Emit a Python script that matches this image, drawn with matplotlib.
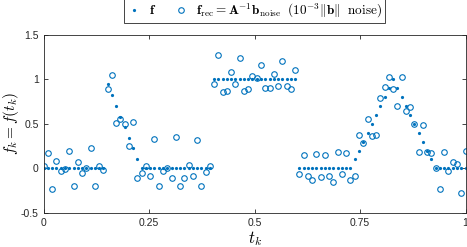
import numpy as np
import matplotlib
matplotlib.use("Agg")
import matplotlib.pyplot as plt

# --- data ---
n_pts = 100
t = np.linspace(0, 1, n_pts)

# true signal f(t_k)
f_true = np.zeros(n_pts)
f_true[15:23] = [0.946, 0.825, 0.70, 0.58, 0.46, 0.345, 0.225, 0.10]
f_true[40:60] = 1.0
f_true[73:92] = [0.1, 0.2, 0.3, 0.4, 0.5, 0.6, 0.7, 0.8, 0.9, 1.0,
                 0.9, 0.8, 0.7, 0.6, 0.5, 0.4, 0.3, 0.2, 0.1]

# reconstruction from noisy data
f_rec = np.array([
    0.03, 0.176, -0.233, 0.083, -0.034, -0.008, 0.19, -0.20, 0.07, -0.056,
    0.0, 0.225, -0.20, 0.02, -0.02, 0.89, 1.05, 0.51, 0.56, 0.50,
    0.25, 0.525, -0.11, -0.056, 0.026, -0.086, 0.334, -0.20, -0.03, 0.008,
    -0.105, 0.35, -0.195, -0.105, 0.04, -0.083, 0.315, -0.20, -0.045, 0.026,
    0.945, 1.275, 0.863, 0.867, 1.085, 0.953, 1.246, 0.874, 0.893, 1.043,
    1.02, 1.167, 0.908, 0.904, 1.062, 0.923, 1.208, 0.923, 0.897, 1.11,
    -0.07, 0.146, -0.083, -0.135, 0.158, -0.098, 0.15, -0.086, -0.15, 0.184,
    -0.064, 0.169, -0.131, -0.083, 0.37, 0.28, 0.555, 0.364, 0.38, 0.79,
    0.92, 1.03, 0.89, 0.70, 1.03, 0.65, 0.69, 0.50, 0.18, 0.49,
    0.18, 0.173, 0.004, -0.236, 0.18, -0.034, 0.068, 0.05, -0.28, 0.19,
])

xticks = [0, 0.25, 0.5, 0.75, 1]
xticklabels = ["0", "0.25", "0.5", "0.75", "1"]
yticks = [-0.5, 0, 0.5, 1, 1.5]
yticklabels = ["-0.5", "0", "0.5", "1", "1.5"]

blue = "#0072BD"
dark = "#262626"

plt.rcParams["mathtext.fontset"] = "cm"
plt.rcParams["font.family"] = ["Liberation Sans", "DejaVu Sans"]

fig = plt.figure(figsize=(4.67, 2.47), dpi=100)
ax = fig.add_axes([0.0936, 0.139, 0.9032, 0.719])

ax.plot(t, f_true, "o", color=blue, markersize=2.3, markeredgewidth=0,
        label=r"$\mathbf{f}$")
ax.plot(t, f_rec, "o", color=blue, markerfacecolor="none", markersize=4.0,
        markeredgewidth=0.8,
        label=r"$\mathbf{f}_{\rm rec} = \mathbf{A}^{-1}\mathbf{b}_{\rm noise}\ \ (10^{-3}\Vert\mathbf{b}\Vert\ \ \rm noise)$")

ax.set_xlim(0, 1)
ax.set_ylim(-0.5, 1.5)
ax.set_xticks(xticks)
ax.set_xticklabels(xticklabels)
ax.set_yticks(yticks)
ax.set_yticklabels(yticklabels)
ax.tick_params(direction="in", length=3, width=0.6, colors=dark,
               labelsize=7.5, top=True, right=True)
for s in ax.spines.values():
    s.set_color(dark)
    s.set_linewidth(0.6)

ax.set_xlabel(r"$t_k$", fontsize=12, labelpad=1)
ax.set_ylabel(r"$f_k = f(t_k)$", fontsize=11, labelpad=0)

leg = ax.legend(loc="lower center", bbox_to_anchor=(0.5, 1.03), ncol=2,
                fontsize=9.5, frameon=True, fancybox=False, framealpha=1,
                edgecolor=dark, handlelength=1.0, handletextpad=0.6,
                columnspacing=1.4, borderpad=0.25, borderaxespad=0.5)
leg.get_frame().set_linewidth(0.6)

fig.savefig("out.png", dpi=100)
